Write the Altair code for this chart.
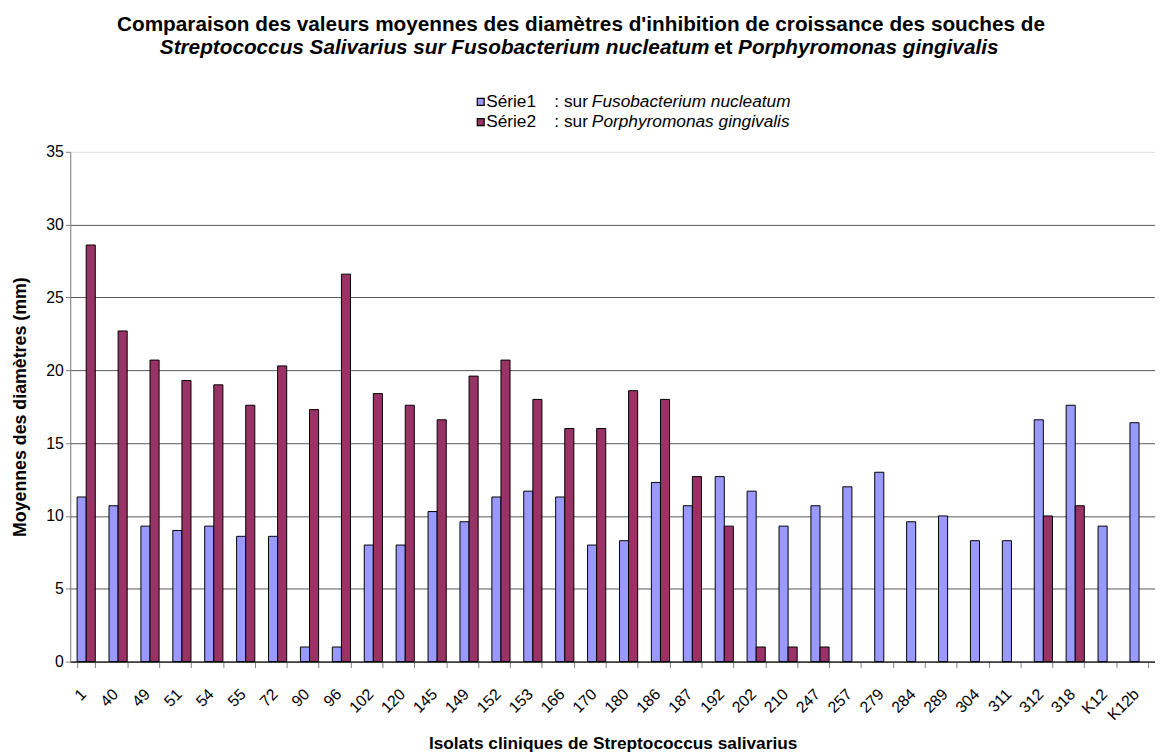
import altair as alt
import pandas as pd

# ---------------- data ----------------
isolats = ["1", "40", "49", "51", "54", "55", "72", "90", "96", "102", "120", "145",
           "149", "152", "153", "166", "170", "180", "186", "187", "192", "202", "210",
           "247", "257", "279", "284", "289", "304", "311", "312", "318", "K12", "K12b"]
serie1 = [11.3, 10.7, 9.3, 9.0, 9.3, 8.6, 8.6, 1.0, 1.0, 8.0, 8.0, 10.3,
          9.6, 11.3, 11.7, 11.3, 8.0, 8.3, 12.3, 10.7, 12.7, 11.7, 9.3,
          10.7, 12.0, 13.0, 9.6, 10.0, 8.3, 8.3, 16.6, 17.6, 9.3, 16.4]
serie2 = [28.6, 22.7, 20.7, 19.3, 19.0, 17.6, 20.3, 17.3, 26.6, 18.4, 17.6, 16.6,
          19.6, 20.7, 18.0, 16.0, 16.0, 18.6, 18.0, 12.7, 9.3, 1.0, 1.0,
          1.0, None, None, None, None, None, None, 10.0, 10.7, None, None]
series = ["Série1", "Série2"]
colors = ["#9999FF", "#993366"]
y_ticks = [0, 5, 10, 15, 20, 25, 30, 35]

title_line1 = "Comparaison des valeurs moyennes des diamètres d'inhibition de croissance des souches de"
title_line2a = "Streptococcus Salivarius sur Fusobacterium nucleatum"
title_line2b = "et"
title_line2c = "Porphyromonas gingivalis"
legend_names = ["Fusobacterium nucleatum", "Porphyromonas gingivalis"]
x_title = "Isolats cliniques de Streptococcus salivarius"
y_title = "Moyennes des diamètres (mm)"

rows = []
for i, iso in enumerate(isolats):
    if serie1[i] is not None:
        rows.append({"isolat": iso, "serie": series[0], "valeur": serie1[i]})
    if serie2[i] is not None:
        rows.append({"isolat": iso, "serie": series[1], "valeur": serie2[i]})
df = pd.DataFrame(rows)

FONT = "Liberation Sans"
W, H = 1098, 516

bars = alt.Chart(df).mark_bar(stroke="black", strokeWidth=1).encode(
    x=alt.X("isolat:N", sort=isolats,
            scale=alt.Scale(domain=isolats, paddingInner=0.43, paddingOuter=0.215),
            axis=alt.Axis(title=x_title, labelAngle=-45, labelAlign="right",
                          labelBaseline="middle", labelPadding=24, labelOffset=-3,
                          tickBand="extent", tickSize=6, tickColor="#808080",
                          domainColor="black", labelFontSize=16, labelColor="black",
                          labelFont=FONT, titleFont=FONT, titleFontSize=17.5,
                          titleFontWeight="bold", titleColor="black",
                          titleY=88, titleBaseline="alphabetic", grid=False)),
    xOffset=alt.XOffset("serie:N", scale=alt.Scale(domain=series, paddingInner=0, paddingOuter=0)),
    y=alt.Y("valeur:Q", scale=alt.Scale(domain=[0, 35], nice=False),
            axis=alt.Axis(title=y_title, values=y_ticks, tickSize=5, tickColor="#808080",
                          domainColor="#808080", labelFontSize=16, labelColor="black",
                          labelFont=FONT, labelPadding=2, titleFont=FONT, titleFontSize=18,
                          titleFontWeight="bold", titleColor="black", titleX=-45, titleY=H / 2,
                          titleBaseline="alphabetic", grid=True, gridColor="#555555",
                          gridWidth=1,
                          gridOpacity={"condition": {"test": "datum.value >= 35", "value": 0},
                                       "value": 1})),
    color=alt.Color("serie:N", scale=alt.Scale(domain=series, range=colors), legend=None),
)


def txt(text, x, y, size, weight="normal", style="normal", align="left", baseline="alphabetic"):
    return alt.Chart(pd.DataFrame({"t": [text]})).mark_text(
        font=FONT, fontSize=size, fontWeight=weight, fontStyle=style,
        align=align, baseline=baseline, color="black"
    ).encode(text="t:N", x=alt.value(x), y=alt.value(y))


def square(color, x, y):
    return alt.Chart(pd.DataFrame({"c": [color]})).mark_square(
        size=49, fill=color, stroke="black", strokeWidth=1.2, opacity=1
    ).encode(x=alt.value(x), y=alt.value(y))


layers = [bars,
          txt(title_line1, 517, -122, 21, weight="bold", align="center"),
          txt(title_line2a, 647, -99, 21, weight="bold", style="italic", align="right"),
          txt(title_line2b, 661, -99, 21, weight="bold", align="center"),
          txt(title_line2c, 676, -99, 21, weight="bold", style="italic", align="left"),
          square(colors[0], 415.5, -50.5),
          square(colors[1], 415.5, -30),
          txt(series[0], 421, -50.5, 17.5, baseline="middle"),
          txt(series[1], 421, -30, 17.5, baseline="middle"),
          txt(": sur", 490, -50.5, 17.5, baseline="middle"),
          txt(": sur", 490, -30, 17.5, baseline="middle"),
          txt(legend_names[0], 528, -50.5, 17.5, style="italic", baseline="middle"),
          txt(legend_names[1], 528, -30, 17.5, style="italic", baseline="middle"),
          ]

chart = alt.layer(*layers).properties(
    width=W, height=H,
    autosize=alt.AutoSizeParams(type="none"),
    padding={"left": 63, "top": 141, "right": 0, "bottom": 90},
).configure_view(stroke=None).configure(background="white")

chart.save("out.html", embed_options={"renderer": "svg", "actions": False})
